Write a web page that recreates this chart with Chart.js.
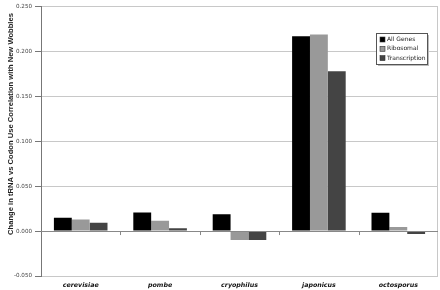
<!DOCTYPE html>
<html>
<head>
<meta charset="utf-8">
<script src="https://cdn.jsdelivr.net/npm/chart.js@4"></script>
<style>
  body { margin: 0; background: #fff; }
  #wrap { width: 440px; height: 290px; }
</style>
</head>
<body>
<div id="wrap"><canvas id="myChart" width="440" height="290"></canvas></div>
<script>
// arter og vaerdier aflaest fra figuren
const species = ['cerevisiae', 'pombe', 'cryophilus', 'japonicus', 'octosporus']
const allGenes = [0.0147, 0.0207, 0.0188, 0.2168, 0.0203]
const ribosomal = [0.0130, 0.0114, -0.0099, 0.2187, 0.0044]
const transcription = [0.0092, 0.0030, -0.0099, 0.1777, -0.0033]
const yTicks = [-0.05, 0, 0.05, 0.10, 0.15, 0.20, 0.25]
const yTitle = 'Change in tRNA vs Codon Use Correlation with New Wobbles'

// tegner aksetitel, nul-linjens streger, hoejre kant og legenden
const extras = {
    id: 'extras',
    afterDatasetsDraw(chart) {
        const c = chart.ctx
        const a = chart.chartArea
        const x = chart.scales.x
        const y = chart.scales.y
        const y0 = y.getPixelForValue(0)
        c.save()
        // hoejre kant
        c.strokeStyle = '#c8c8c8'
        c.lineWidth = 1
        c.beginPath()
        c.moveTo(Math.round(a.right) - 0.5, a.top)
        c.lineTo(Math.round(a.right) - 0.5, a.bottom)
        c.stroke()
        // nul-linje med smaa streger mellem kategorierne
        c.strokeStyle = '#888'
        c.beginPath()
        c.moveTo(a.left, Math.round(y0) + 0.5)
        c.lineTo(a.right, Math.round(y0) + 0.5)
        const w = x.getPixelForValue(1) - x.getPixelForValue(0)
        for (let i = 1; i < species.length; i++) {
            const px = Math.round(x.getPixelForValue(i) - w / 2) + 0.5
            c.moveTo(px, y0)
            c.lineTo(px, y0 + 4)
        }
        c.stroke()
        // y-titel
        c.translate(11, 124)
        c.rotate(-Math.PI / 2)
        c.font = 'bold 7.6px "Liberation Sans", Arial, sans-serif'
        c.fillStyle = '#222'
        c.textAlign = 'center'
        c.textBaseline = 'middle'
        c.fillText(yTitle, 0, 0)
        c.restore()

        // legende
        c.save()
        const lx = 376, ly = 33, lw = 51, lh = 31
        c.fillStyle = '#bbb'
        c.fillRect(lx + 2, ly + 2, lw, lh)
        c.fillStyle = '#fff'
        c.fillRect(lx, ly, lw, lh)
        c.strokeStyle = '#555'
        c.strokeRect(lx + 0.5, ly + 0.5, lw, lh)
        c.font = '6px "DejaVu Sans", Verdana, sans-serif'
        c.textBaseline = 'middle'
        chart.data.datasets.forEach((ds, i) => {
            const ey = ly + 6.5 + i * 9.3
            c.fillStyle = ds.backgroundColor
            c.fillRect(lx + 4, ey - 2.5, 5, 5)
            c.strokeStyle = '#333'
            c.lineWidth = 0.6
            c.strokeRect(lx + 4, ey - 2.5, 5, 5)
            c.fillStyle = '#222'
            c.fillText(ds.label, lx + 11, ey)
        })
        c.restore()
    }
}

let ctx = document.getElementById('myChart').getContext('2d')
let myChart = new Chart(ctx, {
    type: 'bar',
    data: {
        labels: species,
        datasets: [
            { label: 'All Genes', data: allGenes, backgroundColor: '#000000' },
            { label: 'Ribosomal', data: ribosomal, backgroundColor: '#999999' },
            { label: 'Transcription', data: transcription, backgroundColor: '#444444' }
        ]
    },
    options: {
        responsive: false,
        animation: false,
        maintainAspectRatio: false,
        layout: { padding: { top: 4, right: 2, left: 0, bottom: 0 } },
        categoryPercentage: 0.675,
        barPercentage: 1,
        plugins: {
            legend: { display: false },
            tooltip: { enabled: false }
        },
        scales: {
            x: {
                grid: { display: false },
                border: { display: false },
                ticks: {
                    padding: -2,
                    color: '#111',
                    font: { family: '"DejaVu Sans", Verdana, sans-serif', size: 6.3, style: 'italic', weight: 'bold', lineHeight: 1 }
                },
                afterFit: (s) => { s.height = 14 }
            },
            y: {
                min: -0.05,
                max: 0.25,
                afterBuildTicks: (s) => { s.ticks = yTicks.map(v => ({ value: v })) },
                grid: {
                    color: (c) => Math.abs(c.tick.value) < 1e-9 ? 'rgba(0,0,0,0)' : '#c8c8c8',
                    tickColor: '#777',
                    tickLength: 6
                },
                border: { color: '#777' },
                ticks: {
                    padding: 3,
                    color: '#444',
                    callback: (v) => v.toFixed(3),
                    font: { family: '"DejaVu Sans", Verdana, sans-serif', size: 5.6 }
                },
                afterFit: (s) => { s.width = 41 }
            }
        }
    },
    plugins: [extras]
})
</script>
</body>
</html>
